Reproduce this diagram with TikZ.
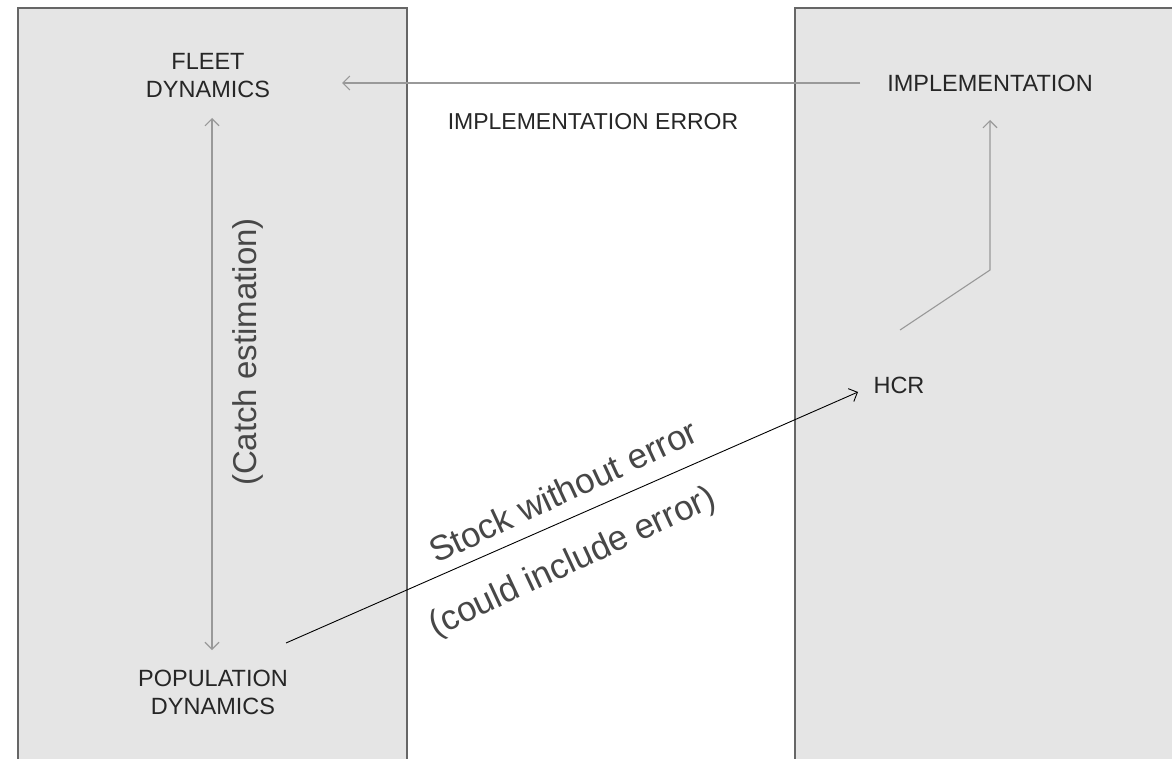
\documentclass[tikz,border=0pt]{standalone}
\usepackage{fontspec}
\setmainfont{Liberation Sans}
\usetikzlibrary{arrows.meta}
\begin{document}
\begin{tikzpicture}[x=1pt,y=-1pt,
  panel/.style={draw=black!60,line width=1.6pt,fill=black!10},
  lbl/.style={text=black!85,font=\fontsize{23.5}{28}\selectfont,align=center,inner sep=1pt},
  big/.style={text=black!72,font=\fontsize{33}{36}\selectfont,inner sep=0pt},
  garrow/.style={draw=black!40,line width=1.1pt,-{Straight Barb[length=7pt,width=14pt]}},
  karrow/.style={draw=black,line width=0.9pt,-{Straight Barb[length=7pt,width=14pt]}}]
\useasboundingbox (0,0) rectangle (1172,759);
\fill[white] (0,0) rectangle (1172,759);
\draw[panel] (18,8) -- (407,8) -- (407,765) -- (18,765) -- cycle;
\fill[black!10] (795,8) rectangle (1180,765);
\draw[draw=black!60,line width=1.6pt] (795,765) -- (795,8) -- (1180,8);
\node[lbl] (fleet) at (208,76) {FLEET\\DYNAMICS};
\node[lbl] (pop) at (213,692) {POPULATION\\DYNAMICS};
\node[lbl] (impl) at (990,83) {IMPLEMENTATION};
\node[lbl] (hcr) at (899,385) {HCR};
\node[lbl,font=\fontsize{23}{28}\selectfont] (implerr) at (593,122) {IMPLEMENTATION ERROR};
\coordinate (ia) at (860,83);
\coordinate (ib) at (342,83);
\draw[garrow] (ia) -- (ib);
\coordinate (ca) at (212,118);
\coordinate (cb) at (212,650);
\draw[garrow,{Straight Barb[length=7pt,width=14pt]}-{Straight Barb[length=7pt,width=14pt]}] (ca) -- (cb);
\node[big,rotate=90] (catch) at (248,352) {(Catch estimation)};
\coordinate (h1) at (900,330);
\coordinate (h2) at (990,270);
\coordinate (h3) at (990,120);
\draw[garrow] (h1) -- (h2) -- (h3);
\coordinate (sa) at (286,643);
\coordinate (sb) at (858,392);
\draw[karrow] (sa) -- (sb);
\node[big,font=\fontsize{35}{38}\selectfont,rotate=25] (stock) at (563,491) {Stock without error};
\node[big,font=\fontsize{35}{38}\selectfont,rotate=25] (could) at (573,563) {(could include error)};
\end{tikzpicture}
\end{document}
